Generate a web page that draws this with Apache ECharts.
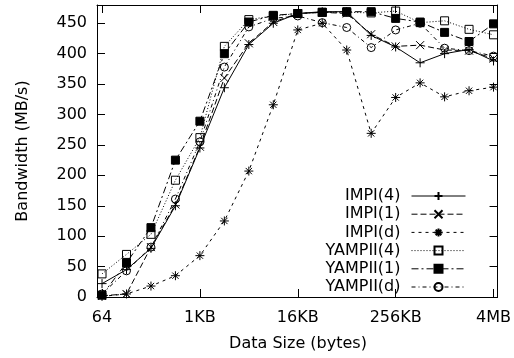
<!DOCTYPE html>
<html>
<head>
<meta charset="utf-8">
<script src="https://cdn.jsdelivr.net/npm/echarts@6/dist/echarts.min.js"></script>
<style>html,body{margin:0;padding:0;background:#fff}#c{width:514px;height:358px}</style>
</head>
<body>
<div id="c"></div>
<script>
// Message sizes in bytes (64 B .. 4 MB)
var sizes = [64, 128, 256, 512, 1024, 2048, 4096, 8192, 16384, 32768, 65536, 131072, 262144, 524288, 1048576, 2097152, 4194304];
var xTickSizes = [64, 1024, 16384, 262144, 4194304];
var xTickLabels = ['64', '1KB', '16KB', '256KB', '4MB'];
var yTicks = [0, 50, 100, 150, 200, 250, 300, 350, 400, 450];
var seriesNames = ['IMPI(4)', 'IMPI(1)', 'IMPI(d)', 'YAMPII(4)', 'YAMPII(1)', 'YAMPII(d)'];
var impi4   = [22, 45, 80, 150, 245, 344, 415, 450, 466, 469, 469, 430, 411, 385, 400, 407, 388];
var impi1   = [2, 5, 82, 152, 247, 360, 417, 452, 466, 468, 466, 432, 412, 414, 406, 405, 392];
var impid   = [1, 5, 18, 35, 68, 125, 207, 316, 439, 450, 406, 269, 328, 352, 329, 339, 345];
var yampii4 = [38, 70, 103, 192, 262, 412, 456, 462, 466, 468, 468, 467, 470, 451, 454, 440, 431];
var yampii1 = [3, 56, 114, 225, 289, 400, 452, 463, 466, 468, 469, 469, 458, 452, 435, 420, 449];
var yampiid = [5, 43, 82, 161, 255, 378, 444, 458, 462, 451, 443, 410, 439, 450, 409, 405, 396];

var FONT = 'DejaVu Sans';
var xTickVals = xTickSizes.map(function (s) { return Math.log2(s); });
function pairs(vals) { return sizes.map(function (s, i) { return [Math.log2(s), vals[i]]; }); }

var SYM_PLUS = 'path://M0,5L10,5M5,0L5,10';
var SYM_CROSS = 'path://M0,0L10,10M0,10L10,0';
var SYM_STAR = 'path://M0,5L10,5M5,0L5,10M1.5,1.5L8.5,8.5M1.5,8.5L8.5,1.5';

function mk(name, vals, symbol, size, fill, dash) {
  return {
    name: name, type: 'line', data: pairs(vals),
    symbol: symbol, symbolSize: size, showSymbol: true,
    lineStyle: { color: '#000', width: 1, type: dash },
    itemStyle: { color: fill, borderColor: '#000', borderWidth: 1 },
    emphasis: { disabled: true }, animation: false, z: 3
  };
}

var xMin = 5.795, xMax = 22.165;
var chart = echarts.init(document.getElementById('c'), null, { renderer: 'canvas' });
chart.setOption({
  animation: false,
  backgroundColor: '#fff',
  textStyle: { fontFamily: FONT },
  grid: { left: 97, right: 16, top: 5, bottom: 61, containLabel: false },
  xAxis: [{
    type: 'value', min: xMin, max: xMax, position: 'bottom',
    axisLine: { show: true, onZero: false, lineStyle: { color: '#000', width: 1 } },
    axisTick: { show: true, inside: true, length: 8, customValues: xTickVals, lineStyle: { color: '#000' } },
    axisLabel: {
      show: true, customValues: xTickVals, margin: 13, color: '#000', fontFamily: FONT, fontSize: 16,
      formatter: function (v) { var i = xTickVals.indexOf(v); return i >= 0 ? xTickLabels[i] : ''; }
    },
    splitLine: { show: false }
  }, {
    type: 'value', min: xMin, max: xMax, position: 'top',
    axisLine: { show: true, onZero: false, lineStyle: { color: '#000', width: 1 } },
    axisTick: { show: true, inside: true, length: 8, customValues: xTickVals, lineStyle: { color: '#000' } },
    axisLabel: { show: false }, splitLine: { show: false }
  }],
  yAxis: [{
    type: 'value', min: 0, max: 480, position: 'left',
    axisLine: { show: true, lineStyle: { color: '#000', width: 1 } },
    axisTick: { show: true, inside: true, length: 8, customValues: yTicks, lineStyle: { color: '#000' } },
    axisLabel: { show: true, customValues: yTicks, margin: 10, color: '#000', fontFamily: FONT, fontSize: 16 },
    splitLine: { show: false }
  }, {
    type: 'value', min: 0, max: 480, position: 'right',
    axisLine: { show: true, lineStyle: { color: '#000', width: 1 } },
    axisTick: { show: true, inside: true, length: 8, customValues: yTicks, lineStyle: { color: '#000' } },
    axisLabel: { show: false }, splitLine: { show: false }
  }],
  legend: {
    orient: 'vertical', align: 'right', right: 48, top: 188, padding: 0,
    itemWidth: 54, itemHeight: 10, itemGap: 2.2,
    lineStyle: { width: 1 },
    textStyle: { fontFamily: FONT, fontSize: 16, color: '#000', lineHeight: 16, padding: [0, 6, 0, 0] },
    data: seriesNames, selectedMode: false
  },
  graphic: [
    { type: 'text', x: 298, y: 344, style: { text: 'Data Size (bytes)', font: '16px "DejaVu Sans"', fill: '#000', textAlign: 'center', textVerticalAlign: 'middle' } },
    { type: 'text', x: 23, y: 151, rotation: Math.PI / 2, style: { text: 'Bandwidth (MB/s)', font: '16px "DejaVu Sans"', fill: '#000', textAlign: 'center', textVerticalAlign: 'middle' } }
  ],
  series: [
    mk(seriesNames[0], impi4, SYM_PLUS, 9, 'transparent', 'solid'),
    mk(seriesNames[1], impi1, SYM_CROSS, 8, 'transparent', [6, 3]),
    mk(seriesNames[2], impid, SYM_STAR, 9, 'transparent', [3, 4]),
    mk(seriesNames[3], yampii4, 'rect', 8, 'transparent', [1, 2]),
    mk(seriesNames[4], yampii1, 'rect', 8, '#000', [7, 3, 2, 3]),
    mk(seriesNames[5], yampiid, 'circle', 8, 'transparent', [4, 3, 1, 3])
  ]
});
</script>
</body>
</html>
